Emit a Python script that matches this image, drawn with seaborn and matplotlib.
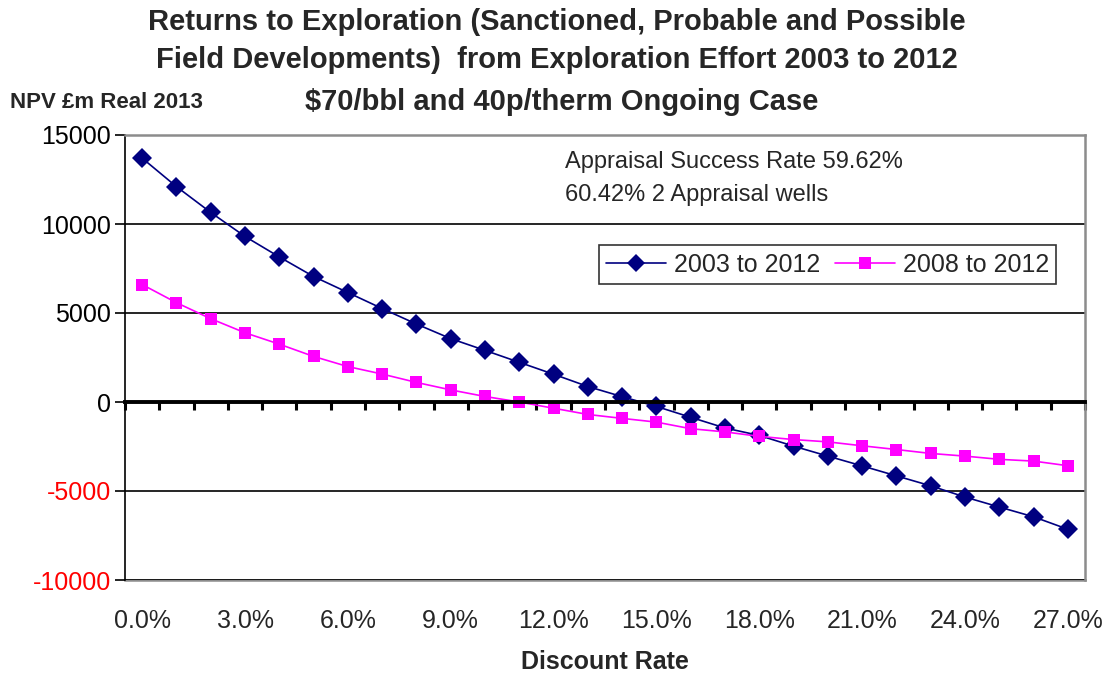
import pandas as pd
import numpy as np
import matplotlib
matplotlib.use('Agg')
import matplotlib.pyplot as plt
import seaborn as sns

# discount rate (%) and NPV (£m, real 2013)
rates = list(range(28))
npv_0312 = [13700, 12100, 10650, 9300, 8150, 7050, 6150, 5250, 4380, 3560,
            2900, 2230, 1560, 870, 300, -250, -860, -1460, -1880, -2480,
            -3040, -3590, -4150, -4710, -5340, -5900, -6450, -7150]
npv_0812 = [6600, 5580, 4680, 3890, 3250, 2560, 1990, 1570, 1100, 680,
            310, 0, -350, -700, -920, -1130, -1500, -1680, -1930, -2110,
            -2240, -2460, -2670, -2890, -3040, -3220, -3320, -3580]
series_names = ['2003 to 2012', '2008 to 2012']
colors = {'2003 to 2012': '#000080', '2008 to 2012': '#FF00FF'}
markers = {'2003 to 2012': 'D', '2008 to 2012': 's'}
y_ticks = [-10000, -5000, 0, 5000, 10000, 15000]
x_label_rates = rates[::3]

df = pd.concat([
    pd.DataFrame({'rate': rates, 'npv': npv_0312, 'period': series_names[0]}),
    pd.DataFrame({'rate': rates, 'npv': npv_0812, 'period': series_names[1]}),
])

sns.set_theme(style='white')
plt.rcParams['font.family'] = ['Liberation Sans', 'DejaVu Sans']

fig = plt.figure(figsize=(11.05, 6.75), dpi=100)
ax = fig.add_axes([125 / 1105, 1 - 580 / 675, 960 / 1105, 445 / 675])

sns.lineplot(data=df, x='rate', y='npv', hue='period', style='period',
             palette=colors, markers=markers, dashes=False, linewidth=1.2,
             markeredgewidth=0, ax=ax, legend=False)
for line, name in zip(ax.lines, series_names):
    line.set_markersize(10 if markers[name] == 'D' else 9)

ax.set_xlim(-0.5, 27.5)
ax.set_ylim(-10000, 15000)
ax.set_yticks(y_ticks)
ax.set_yticklabels([str(v) for v in y_ticks], fontsize=18)
for lab, v in zip(ax.get_yticklabels(), y_ticks):
    lab.set_color('red' if v < 0 else 'black')
ax.tick_params(axis='y', direction='out', length=7, width=1.2, color='black', left=True, pad=3)
ax.yaxis.grid(True, color='black', linewidth=1.2)
ax.set_axisbelow(True)

# category axis sits on zero, ticks between categories
ax.spines['bottom'].set_position(('data', 0))
ax.spines['bottom'].set_color('black')
ax.spines['bottom'].set_linewidth(2.8)
ax.set_xticks(np.arange(-0.5, 28, 1))
ax.set_xticklabels([])
ax.tick_params(axis='x', direction='out', length=6, width=2.2, color='black', bottom=True)
ax.set_xlabel('')
ax.set_ylabel('')

ax.spines['left'].set_color('black')
ax.spines['left'].set_linewidth(1.2)
for s in ['top', 'right']:
    ax.spines[s].set_color('#8c8c8c')
    ax.spines[s].set_linewidth(1.8)

sec = ax.secondary_xaxis(0)
sec.set_xticks(x_label_rates)
sec.set_xticklabels([f'{r:.1f}%' for r in x_label_rates], fontsize=18)
sec.tick_params(length=0, pad=21)
sec.spines['bottom'].set_color('#8c8c8c')
sec.spines['bottom'].set_linewidth(1.8)
sec.set_xlabel('Discount Rate', fontsize=18, fontweight='bold', labelpad=12)

handles = [plt.Line2D([], [], color=colors[n], marker=markers[n], markersize=9 if n == series_names[0] else 8,
                      markeredgewidth=0, linewidth=1.2) for n in series_names]
leg = ax.legend(handles, series_names, ncol=2, loc='center', bbox_to_anchor=(0.732, 0.708),
                fontsize=18, frameon=True, fancybox=False, edgecolor='black',
                handlelength=2.4, columnspacing=0.6, handletextpad=0.3, borderpad=0.3)
leg.get_frame().set_linewidth(1.2)

ax.text(0.458, 0.965, 'Appraisal Success Rate 59.62%\n60.42% 2 Appraisal wells',
        transform=ax.transAxes, ha='left', va='top', fontsize=17, linespacing=1.65)

fig.text(0.504, 1 - 22 / 675, 'Returns to Exploration (Sanctioned, Probable and Possible',
         ha='center', va='center', fontsize=21, fontweight='bold')
fig.text(0.504, 1 - 60 / 675, 'Field Developments)  from Exploration Effort 2003 to 2012',
         ha='center', va='center', fontsize=21, fontweight='bold')
fig.text(0.508, 1 - 102 / 675, '$70/bbl and 40p/therm Ongoing Case',
         ha='center', va='center', fontsize=21, fontweight='bold')
fig.text(10 / 1105, 1 - 103 / 675, 'NPV £m Real 2013', ha='left', va='center',
         fontsize=16, fontweight='bold')

fig.savefig('out.png', dpi=100, facecolor='white')
